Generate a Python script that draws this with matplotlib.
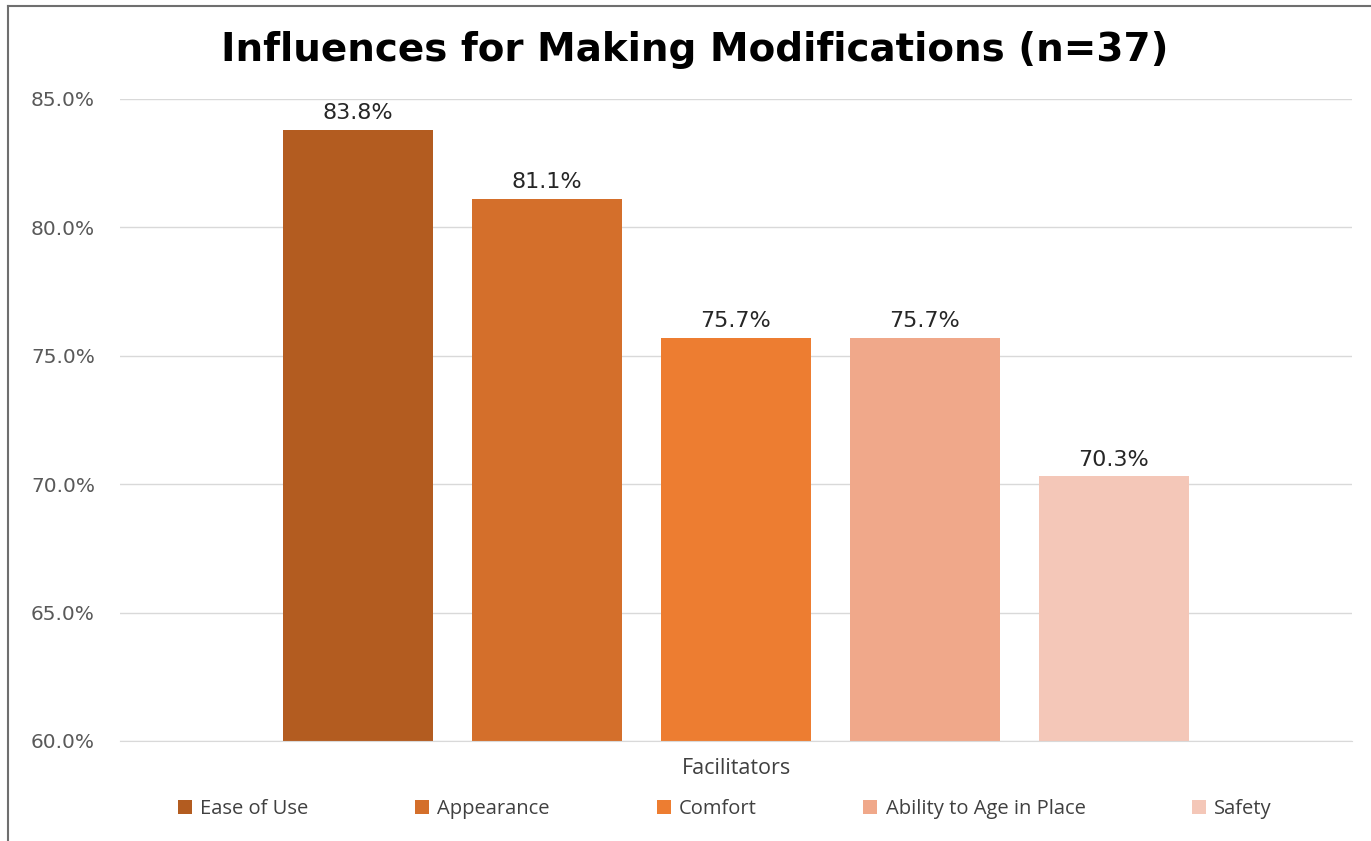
import matplotlib.pyplot as plt
from matplotlib.lines import Line2D
from matplotlib.patches import Patch
from matplotlib.ticker import FuncFormatter

categories = ["Ease of Use", "Appearance", "Comfort", "Ability to Age in Place", "Safety"]
values = [83.8, 81.1, 75.7, 75.7, 70.3]
colors = ["#B35C20", "#D46F2B", "#ED7D31", "#F0A88A", "#F4C7B8"]
yticks = [60, 65, 70, 75, 80, 85]

fig = plt.figure(figsize=(13.71, 8.41), dpi=100)
ax = fig.add_axes([120 / 1371, 1 - 741 / 841, (1352 - 120) / 1371, (741 - 99) / 841])

x = list(range(len(categories)))
bars = ax.bar(x, [v - 60 for v in values], bottom=60, width=0.79, color=colors, zorder=3)

for xi, v in zip(x, values):
    ax.annotate(f"{v:.1f}%", (xi, v), xytext=(0, 5), textcoords="offset points",
                ha="center", va="bottom", fontsize=16, color="#262626",
                family="DejaVu Sans")

ax.set_ylim(60, 85)
ax.set_xlim(2 - 3.26, 2 + 3.26)
ax.set_yticks(yticks)
ax.yaxis.set_major_formatter(FuncFormatter(lambda v, p: f"{v:.1f}%"))
ax.tick_params(axis="y", length=0, pad=18, labelsize=14.5, labelcolor="#595959")
for t in ax.get_yticklabels():
    t.set_family("DejaVu Sans")
ax.set_xticks([])
ax.grid(axis="y", color="#D9D9D9", linewidth=1, zorder=0)
for s in ["top", "right", "left"]:
    ax.spines[s].set_visible(False)
ax.spines["bottom"].set_color("#D9D9D9")
ax.spines["bottom"].set_zorder(4)

fig.text(695 / 1371, 1 - 50 / 841, "Influences for Making Modifications (n=37)",
         ha="center", va="center", fontsize=28, fontweight="bold", color="black",
         family="DejaVu Sans")
fig.text(736 / 1371, 1 - 769 / 841, "Facilitators", ha="center", va="center",
         fontsize=15.5, color="#404040", family="Open Sans")

handles = [Patch(facecolor=c, edgecolor="none") for c in colors]
leg = fig.legend(handles, categories, loc="center", bbox_to_anchor=(725 / 1371, 1 - 809 / 841),
                 ncol=5, frameon=False, handlelength=0.7, handleheight=0.7, handletextpad=0.4,
                 columnspacing=5.3, prop={"family": "Open Sans", "size": 14.5}, labelcolor="#404040")

# chart border (left and top visible)
fig.add_artist(Line2D([8 / 1371, 8 / 1371], [0, 1 - 6 / 841], transform=fig.transFigure,
                      color="#6F6F6F", linewidth=1.5))
fig.add_artist(Line2D([8 / 1371, 1], [1 - 6 / 841, 1 - 6 / 841], transform=fig.transFigure,
                      color="#6F6F6F", linewidth=1.5))

fig.savefig("out.png", dpi=100)
